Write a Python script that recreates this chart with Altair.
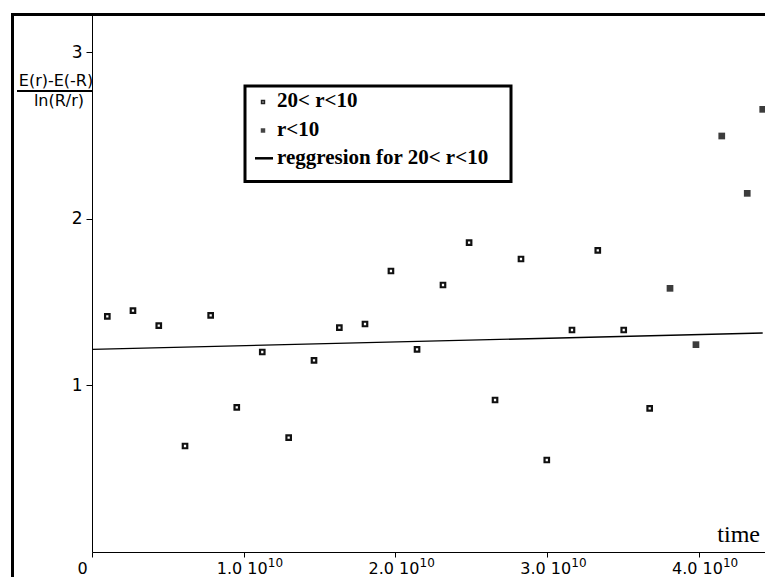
import altair as alt
import pandas as pd

# ---- data ----
# series "20< r<10" (open squares)
open_time = [0.101e10, 0.270e10, 0.440e10, 0.613e10, 0.782e10, 0.954e10, 1.122e10,
             1.296e10, 1.463e10, 1.630e10, 1.799e10, 1.970e10, 2.142e10, 2.313e10,
             2.485e10, 2.656e10, 2.827e10, 2.997e10, 3.163e10, 3.333e10, 3.504e10,
             3.675e10]
open_val = [1.414, 1.448, 1.358, 0.636, 1.420, 0.868, 1.200, 0.686, 1.150, 1.346,
            1.368, 1.686, 1.216, 1.602, 1.856, 0.912, 1.758, 0.552, 1.332, 1.810,
            1.332, 0.862]
# series "r<10" (filled squares)
filled_time = [3.809e10, 3.980e10, 4.150e10, 4.318e10, 4.420e10]
filled_val = [1.582, 1.244, 2.496, 2.152, 2.656]
# regression line endpoints
reg_time = [0.0, 4.42e10]
reg_val = [1.216, 1.314]

x_ticks = [0, 1e10, 2e10, 3e10, 4e10]
x_sup_ticks = [1e10, 2e10, 3e10, 4e10]
x_sup_text = ["10", "10", "10", "10"]
y_ticks = [1, 2, 3]
x_max = 4.435e10
y_max = 3.222

legend_labels = ["20< r<10", "r<10", "reggresion for 20< r<10"]
x_title = "time"
y_title_top = "E(r)-E(-R)"
y_title_bottom = "ln(R/r)"

SANS = "DejaVu Sans"
SERIF = "Liberation Serif"

df_open = pd.DataFrame({"t": open_time, "v": open_val})
df_filled = pd.DataFrame({"t": filled_time, "v": filled_val})
df_reg = pd.DataFrame({"t": reg_time, "v": reg_val})
df_sup = pd.DataFrame({"t": x_sup_ticks, "s": x_sup_text})
one = pd.DataFrame({"a": [0]})

xscale = alt.Scale(domain=[0, x_max], nice=False, zero=False)
yscale = alt.Scale(domain=[0, y_max], nice=False, zero=False)

x_axis = alt.Axis(
    values=x_ticks, title=None, grid=False,
    labelExpr="datum.value == 0 ? '0' : format(datum.value / 1e10, '.1f') + ' 10'",
    domainColor="black", domainWidth=1, tickColor="black", tickSize=5, tickWidth=1,
    labelFont=SANS, labelFontSize=16, labelColor="black", labelPadding=3,
    labelFlush=False, labelOverlap=False,
    labelOffset={"condition": {"test": "datum.value === 0", "value": -10}, "value": -2},
)
y_axis = alt.Axis(
    values=y_ticks, title=None, grid=False,
    domainColor="black", domainWidth=1, tickColor="black", tickSize=6, tickWidth=1,
    labelFont=SANS, labelFontSize=17, labelColor="black", labelPadding=4,
    labelFlush=False, labelOverlap=False,
)

X = alt.X("t:Q", scale=xscale, axis=x_axis)
Y = alt.Y("v:Q", scale=yscale, axis=y_axis)

# outer frame (only left/top edges visible in the picture)
frame = alt.Chart(one).mark_rect(fillOpacity=0, stroke="black", strokeWidth=3).encode(
    x=alt.value(-79.5), x2=alt.value(900), y=alt.value(-0.5), y2=alt.value(800)
)

reg = alt.Chart(df_reg).mark_line(color="black", strokeWidth=1.4).encode(x=X, y=Y)

pts_open = alt.Chart(df_open).mark_point(
    shape="square", size=20, filled=False, fill="white", fillOpacity=1,
    stroke="#111111", strokeWidth=2.2, opacity=1
).encode(x=X, y=Y)

pts_filled = alt.Chart(df_filled).mark_point(
    shape="square", size=45, filled=True, color="#3c3c3c", opacity=1
).encode(x=X, y=Y)

# superscript exponents of the x tick labels
sup = alt.Chart(df_sup).mark_text(
    font=SANS, fontSize=12, align="left", baseline="top", color="black", dx=24
).encode(x=alt.X("t:Q", scale=xscale, axis=x_axis), y=alt.value(543), text="s:N")

# legend box
leg_box = alt.Chart(one).mark_rect(fill="white", stroke="black", strokeWidth=3).encode(
    x=alt.value(153), x2=alt.value(419), y=alt.value(71), y2=alt.value(166.5)
)
leg_sym1 = alt.Chart(one).mark_point(
    shape="square", size=8, filled=False, fill="white", fillOpacity=1,
    stroke="#222222", strokeWidth=1.6, opacity=1
).encode(x=alt.value(171), y=alt.value(87))
leg_sym2 = alt.Chart(one).mark_point(
    shape="square", size=20, filled=True, color="#444444", opacity=1
).encode(x=alt.value(171), y=alt.value(115.5))
leg_line = alt.Chart(one).mark_rule(color="black", strokeWidth=2.5).encode(
    x=alt.value(163), x2=alt.value(181), y=alt.value(143.3)
)
leg_texts = []
for lbl, yy in zip(legend_labels, [86, 115, 143]):
    leg_texts.append(
        alt.Chart(one).mark_text(
            font=SERIF, fontSize=21, fontWeight="bold", align="left",
            baseline="middle", color="black"
        ).encode(x=alt.value(185), y=alt.value(yy), text=alt.value(lbl))
    )

# y title as a fraction
yt_top = alt.Chart(one).mark_text(
    font=SANS, fontSize=16, align="center", baseline="alphabetic", color="black"
).encode(x=alt.value(-36), y=alt.value(71), text=alt.value(y_title_top))
yt_bar = alt.Chart(one).mark_rule(color="black", strokeWidth=2).encode(
    x=alt.value(-75), x2=alt.value(1), y=alt.value(76)
)
yt_bot = alt.Chart(one).mark_text(
    font=SANS, fontSize=16, align="center", baseline="alphabetic", color="black"
).encode(x=alt.value(-33), y=alt.value(91), text=alt.value(y_title_bottom))

# x title
xt = alt.Chart(one).mark_text(
    font=SERIF, fontSize=24, align="right", baseline="alphabetic", color="black"
).encode(x=alt.value(668), y=alt.value(526.5), text=alt.value(x_title))

chart = alt.layer(
    frame, reg, pts_open, pts_filled, sup, leg_box, leg_sym1, leg_sym2, leg_line,
    *leg_texts, yt_top, yt_bar, yt_bot, xt
).properties(
    width=673, height=537,
    autosize=alt.AutoSizeParams(type="none"),
    padding={"left": 84, "top": 7, "right": 0, "bottom": 25},
    background="white",
).configure_view(strokeWidth=0)

chart.save("out.html", embed_options={"renderer": "svg", "actions": False})
